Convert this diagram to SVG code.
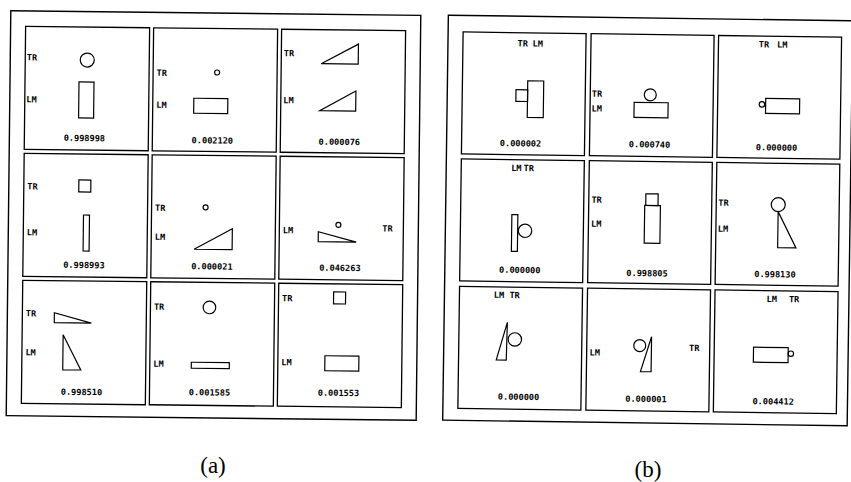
<svg xmlns="http://www.w3.org/2000/svg" width="851" height="482" viewBox="0 0 851 482">
<style>
.frame{fill:none;stroke:#000;stroke-width:1.4}
.cell{fill:none;stroke:#000;stroke-width:1.3}
.sh{fill:none;stroke:#000;stroke-width:1.2}
.lb{font-family:"DejaVu Sans Mono","Liberation Mono",monospace;font-weight:bold;font-size:8.6px;fill:#000}
.num{font-family:"DejaVu Sans Mono","Liberation Mono",monospace;font-weight:bold;font-size:8.6px;fill:#000;text-anchor:middle}
.cap{font-family:"Liberation Serif",serif;font-size:23px;fill:#000;text-anchor:middle}
</style>
<rect width="851" height="482" fill="#fff"/>
<g id="panel-a" transform="rotate(0.65 215 215)">
<rect class="frame" x="8.5" y="13" width="410" height="405"/>
<g id="a11" transform="translate(23.5,28.5)"><rect class="cell" width="124" height="123"/>
<text class="lb" x="1.5" y="34">TR</text><text class="lb" x="1.5" y="76">LM</text>
<circle class="sh" cx="62" cy="33" r="7"/><rect class="sh" x="54" y="55" width="15" height="36"/>
<text class="num" x="60" y="114">0.998998</text></g>
<g id="a12" transform="translate(151.5,28.5)"><rect class="cell" width="124" height="123"/>
<text class="lb" x="3.5" y="48">TR</text><text class="lb" x="3.5" y="80">LM</text>
<circle class="sh" cx="64" cy="44" r="2.5"/><rect class="sh" x="41" y="70" width="34" height="15"/>
<text class="num" x="60" y="115">0.002120</text></g>
<g id="a13" transform="translate(279.5,28.5)"><rect class="cell" width="124" height="123"/>
<text class="lb" x="2.5" y="27">TR</text><text class="lb" x="2.5" y="74">LM</text>
<polygon class="sh" points="40,34 77,34 77,14"/><polygon class="sh" points="39,81 75,81 75,61"/>
<text class="num" x="59" y="115">0.000076</text></g>
<g id="a21" transform="translate(23.5,155.5)"><rect class="cell" width="124" height="123"/>
<text class="lb" x="3.5" y="36">TR</text><text class="lb" x="3.5" y="82">LM</text>
<rect class="sh" x="55" y="26" width="12" height="12"/><rect class="sh" x="60" y="61" width="6" height="36"/>
<text class="num" x="61" y="114">0.998993</text></g>
<g id="a22" transform="translate(151.5,155.5)"><rect class="cell" width="124" height="123"/>
<text class="lb" x="3.5" y="56">TR</text><text class="lb" x="3.5" y="85">LM</text>
<circle class="sh" cx="54" cy="52" r="2.5"/><polygon class="sh" points="43,94 81,94 81,73"/>
<text class="num" x="61" y="114">0.000021</text></g>
<g id="a23" transform="translate(279.5,155.5)"><rect class="cell" width="124" height="123"/>
<text class="lb" x="3.5" y="77">LM</text><text class="lb" x="103" y="74">TR</text>
<circle class="sh" cx="59" cy="68" r="2.5"/><polygon class="sh" points="39,75 39,85 77,85"/>
<text class="num" x="61" y="114">0.046263</text></g>
<g id="a31" transform="translate(23.5,282.5)"><rect class="cell" width="124" height="123"/>
<text class="lb" x="3.5" y="36">TR</text><text class="lb" x="3.5" y="75">LM</text>
<polygon class="sh" points="32,32 32,42 69,42"/><polygon class="sh" points="41,54 41,89 59,89"/>
<text class="num" x="60" y="114">0.998510</text></g>
<g id="a32" transform="translate(151.5,282.5)"><rect class="cell" width="124" height="123"/>
<text class="lb" x="3.5" y="28">TR</text><text class="lb" x="3.5" y="85">LM</text>
<circle class="sh" cx="59" cy="25" r="6.3"/><rect class="sh" x="41.5" y="80" width="38" height="6"/>
<text class="num" x="60" y="113">0.001585</text></g>
<g id="a33" transform="translate(279.5,282.5)"><rect class="cell" width="124" height="123"/>
<text class="lb" x="3.5" y="18">TR</text><text class="lb" x="3.5" y="82">LM</text>
<rect class="sh" x="55" y="8" width="12" height="12"/><rect class="sh" x="47" y="72" width="34" height="15"/>
<text class="num" x="61" y="112">0.001553</text></g>
</g>
<g id="panel-b" transform="rotate(0.8 648 221)">
<rect class="frame" x="445.5" y="18" width="404.5" height="405"/>
<g id="b11" transform="translate(460.5,34.5)"><rect class="cell" width="123" height="122"/>
<text class="lb" x="54.7" y="13.7">TR</text><text class="lb" x="69.7" y="13.7">LM</text>
<rect class="sh" x="53.7" y="57" width="11.7" height="11.7"/><rect class="sh" x="65.3" y="48" width="16" height="36.7"/>
<text class="num" x="59" y="113.7">0.000002</text></g>
<g id="b12" transform="translate(588.5,34.5)"><rect class="cell" width="123" height="122"/>
<text class="lb" x="1.5" y="63">TR</text><text class="lb" x="1.5" y="77.7">LM</text>
<circle class="sh" cx="60" cy="60.3" r="6"/><rect class="sh" x="44" y="68" width="34" height="15"/>
<text class="num" x="60" y="113">0.000740</text></g>
<g id="b13" transform="translate(716,34.5)"><rect class="cell" width="123" height="122"/>
<text class="lb" x="40.3" y="11.3">TR</text><text class="lb" x="58.7" y="11.3">LM</text>
<circle class="sh" cx="44.3" cy="68.3" r="2.7"/><rect class="sh" x="48" y="62.3" width="34" height="15"/>
<text class="num" x="59.5" y="114.3">0.000000</text></g>
<g id="b21" transform="translate(460.5,161.5)"><rect class="cell" width="123" height="122"/>
<text class="lb" x="50" y="11.3">LM</text><text class="lb" x="62.3" y="11.3">TR</text>
<rect class="sh" x="51.3" y="55" width="6" height="36.7"/><circle class="sh" cx="64.7" cy="71" r="6.7"/>
<text class="num" x="60" y="113.3">0.000000</text></g>
<g id="b22" transform="translate(588.5,161.5)"><rect class="cell" width="123" height="122"/>
<text class="lb" x="2.7" y="42">TR</text><text class="lb" x="2.7" y="66">LM</text>
<rect class="sh" x="57" y="32.3" width="12.3" height="11.7"/><rect class="sh" x="56" y="44" width="15.7" height="37.7"/>
<text class="num" x="59.3" y="114.7">0.998805</text></g>
<g id="b23" transform="translate(716,161.5)"><rect class="cell" width="123" height="122"/>
<text class="lb" x="2" y="43.3">TR</text><text class="lb" x="2" y="69.3">LM</text>
<circle class="sh" cx="62" cy="41.3" r="7"/><polygon class="sh" points="62,48.3 62,84.3 80.3,84.3"/>
<text class="num" x="59.7" y="114">0.998130</text></g>
<g id="b31" transform="translate(460.5,289)"><rect class="cell" width="123" height="122"/>
<text class="lb" x="34.3" y="11">LM</text><text class="lb" x="50" y="11">TR</text>
<polygon class="sh" points="48.3,35.3 37.7,73 47.7,73"/><circle class="sh" cx="56" cy="52.3" r="6.7"/>
<text class="num" x="60.5" y="112.7">0.000000</text></g>
<g id="b32" transform="translate(588.5,289)"><rect class="cell" width="123" height="122"/>
<text class="lb" x="3" y="67.3">LM</text><text class="lb" x="102.3" y="61.3">TR</text>
<circle class="sh" cx="53" cy="56.7" r="6"/><polygon class="sh" points="64.7,47.7 64.7,82.7 54,82.7"/>
<text class="num" x="60" y="113">0.000001</text></g>
<g id="b33" transform="translate(716,289)"><rect class="cell" width="123" height="122"/>
<text class="lb" x="51.7" y="11.3">LM</text><text class="lb" x="74" y="11.3">TR</text>
<rect class="sh" x="39.3" y="56.7" width="34.7" height="15"/><circle class="sh" cx="76.7" cy="62.7" r="2.7"/>
<text class="num" x="59.7" y="113.7">0.004412</text></g>
</g>
<text class="cap" x="213" y="473">(a)</text>
<text class="cap" x="648" y="477">(b)</text>
</svg>
